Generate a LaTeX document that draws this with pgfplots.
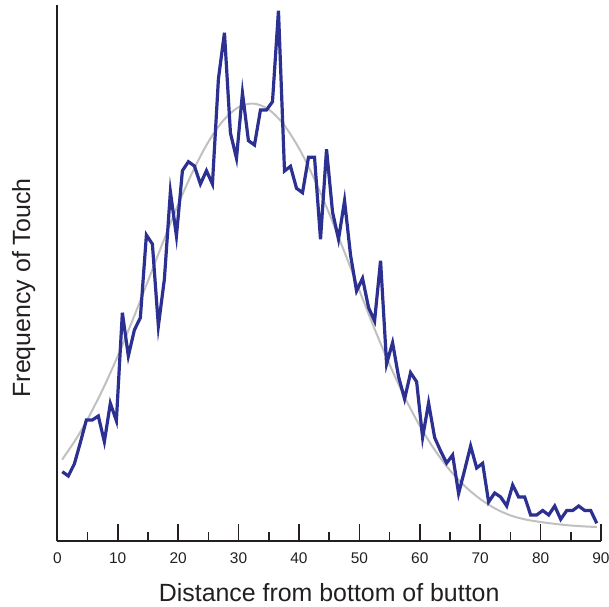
\documentclass[border=0pt]{standalone}
\usepackage{pgfplots}
\pgfplotsset{compat=1.18}
\usepackage{fontspec}
\setmainfont{Liberation Sans}
\definecolor{touchblue}{RGB}{43,48,145}
\definecolor{fitgray}{RGB}{192,192,192}
\definecolor{axisdark}{RGB}{35,31,32}
\begin{document}
\begin{tikzpicture}
\begin{axis}[
  scale only axis,
  width=543.7bp, height=536bp,
  xmin=0, xmax=90, ymin=0, ymax=536,
  axis x line=bottom, axis y line=left,
  axis line style={-, line width=2bp, color=axisdark},
  xtick={0,10,...,90},
  minor xtick={5,15,...,85},
  ytick=\empty,
  tick align=inside,
  major tick length=17bp,
  minor tick length=9bp,
  tick style={line width=1.6bp, color=axisdark},
  /pgf/number format/assume math mode=true,
  xticklabel style={font=\fontsize{15.5}{18}\selectfont, text=axisdark, yshift=-8.5bp},
  xlabel={Distance from bottom of button},
  xlabel style={at={(axis description cs:0.5,-0.1138)}, anchor=base,
                font=\fontsize{25}{30}\selectfont, text=axisdark},
  ylabel={Frequency of Touch},
  ylabel style={at={(axis description cs:-0.0502,0.472)}, anchor=base, rotate=0,
                font=\fontsize{25}{30}\selectfont, text=axisdark},
  clip=false,
]
\addplot[fitgray, line width=2bp, smooth, mark=none] coordinates {
(0.8,81.4) (3,101) (5,121.7) (7.5,151.3) (10,184.9) (12.5,221.4) (15,259.9)
(17.5,298.9) (20,336.4) (22.5,370.4) (25,399.1) (27.5,420.7) (30,433.8)
(32.5,437.4) (35,431.5) (37.5,416.3) (40,392.8) (42.5,362.6) (45,327.6)
(47.5,289.5) (50,250.6) (52.5,212.4) (55,176.5) (57.5,143.8) (60,115.2)
(62.5,90.8) (65,70.7) (67.5,54.6) (70,42) (72.5,32.4) (75,25.6) (77.5,21.5)
(80,19) (82.5,17) (85,15.5) (87.5,14.5) (89.3,14)
};
\addplot[touchblue, line width=3.2bp, mark=none] coordinates {
(0.83,69.3) (1.82,65) (2.82,77) (3.81,98.3) (4.81,121) (5.80,121) (6.79,125)
(7.79,99.3) (8.78,137.7) (9.78,120.3) (10.77,228.3) (11.76,185) (12.76,211)
(13.75,223.3) (14.75,306) (15.74,297) (16.73,215) (17.73,262) (18.72,349.3)
(19.72,305) (20.71,370.3) (21.70,379.3) (22.70,375) (23.69,357) (24.69,370.3)
(25.68,357) (26.67,462) (27.67,508.3) (28.66,408) (29.66,382.7) (30.65,448)
(31.64,400.3) (32.64,396) (33.63,431) (34.63,431) (35.62,439.3) (36.61,530.3)
(37.61,370) (38.60,374.7) (39.60,352.7) (40.59,348.3) (41.58,383.7) (42.58,383.7)
(43.57,301.7) (44.57,391.7) (45.56,329) (46.55,301.7) (47.55,340.3) (48.54,286)
(49.54,250) (50.53,262.7) (51.52,233.5) (52.52,220) (53.51,280.3) (54.51,177)
(55.50,198.3) (56.49,164.3) (57.49,142) (58.48,168.3) (59.48,159.3) (60.47,103.5)
(61.46,138) (62.46,103.5) (63.45,90) (64.45,78) (65.44,86) (66.43,47.5)
(67.43,71) (68.42,95) (69.42,73) (70.41,77.7) (71.40,39) (72.40,48) (73.39,44)
(74.39,35) (75.38,56) (76.37,44) (77.37,44) (78.36,26) (79.36,26) (80.35,30.5)
(81.34,26) (82.34,35) (83.33,21.7) (84.33,30.5) (85.32,30.5) (86.31,35)
(87.31,30.5) (88.30,30.5) (89.30,17.7)
};
\end{axis}
\pgfresetboundingbox
\path[use as bounding box] (-57.3bp,-66bp) rectangle (551.7bp,541bp);
\end{tikzpicture}
\end{document}
